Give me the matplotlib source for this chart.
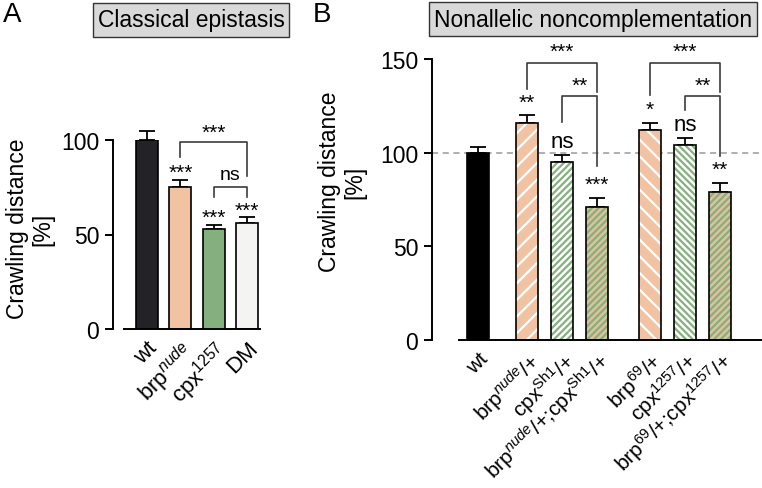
import matplotlib
matplotlib.use("Agg")
import matplotlib.pyplot as plt

plt.rcParams['font.family'] = ['Liberation Sans', 'DejaVu Sans']
plt.rcParams['mathtext.fontset'] = 'custom'
plt.rcParams['mathtext.rm'] = 'Liberation Sans'
plt.rcParams['mathtext.it'] = 'Liberation Sans:italic'
plt.rcParams['hatch.linewidth'] = 1.6

# ---- data ----
# panel A: classical epistasis
a_labels = ['wt', r'brp$^{\mathit{nude}}$', r'cpx$^{\mathit{1257}}$', 'DM']
a_means = [100, 75, 53, 56]
a_errs = [5, 4, 2, 3]
a_stars = ['', '***', '***', '***']

# panel B: nonallelic noncomplementation
b_labels = ['wt', r'brp$^{\mathit{nude}}$/+', r'cpx$^{\mathrm{Sh1}}$/+',
            r'brp$^{\mathit{nude}}$/+;cpx$^{\mathrm{Sh1}}$/+',
            r'brp$^{\mathrm{69}}$/+', r'cpx$^{\mathit{1257}}$/+', r'brp$^{\mathrm{69}}$/+;cpx$^{\mathit{1257}}$/+']
b_means = [100, 116, 95, 71, 112, 104, 79]
b_errs = [3, 4, 4, 5, 4, 4, 5]
b_stars = ['', '**', 'ns', '***', '*', 'ns', '**']

W, H = 762, 489
fig = plt.figure(figsize=(W / 100, H / 100), dpi=100)

def px_axes(left, top, right, bottom):
    return fig.add_axes([left / W, 1 - bottom / H, (right - left) / W, (bottom - top) / H])

def style(ax, xb0, xb1):
    for s in ['top', 'right']:
        ax.spines[s].set_visible(False)
    ax.spines['left'].set_linewidth(1.4)
    ax.spines['bottom'].set_linewidth(1.4)
    ax.spines['bottom'].set_bounds(xb0, xb1)
    ax.tick_params(axis='y', length=6, width=1.4, labelsize=16.5, pad=4)
    ax.tick_params(axis='x', length=0, pad=6)

def bracket(ax, x0, x1, ytop, y0, y1, label, ty):
    ax.plot([x0, x0, x1, x1], [y0, ytop, ytop, y1], color='#3c3c3c', lw=1.2, clip_on=False)
    ax.text((x0 + x1) / 2, ty, label, ha='center', va='center', fontsize=14 if label == 'ns' else 15,
            clip_on=False)

def star(ax, x, y, s):
    ax.text(x, y, s, ha='center', va='center', fontsize=16 if s == 'ns' else 15, clip_on=False)

# ---- panel A ----
axA = px_axes(113, 141, 262, 330)
a_pos = [0, 1, 2, 3]
a_cols = ['#232327', '#f1c3a3', '#84b07e', '#f4f4f2']
axA.bar(a_pos, a_means, width=0.66, color=a_cols, edgecolor='black', linewidth=1.2, zorder=2)
axA.errorbar(a_pos, a_means, yerr=[[0] * 4, a_errs], fmt='none', ecolor='black',
             elinewidth=1.3, capsize=5.5, capthick=1.3, clip_on=False, zorder=1)
axA.set_xlim(-1.02, 3.45)
axA.set_ylim(0, 100)
axA.set_yticks([0, 50, 100])
style(axA, -0.69, 3.4)
axA.set_xticks(a_pos)
axA.set_xticklabels(a_labels, rotation=45, ha='right', va='top', rotation_mode='anchor',
                    fontsize=16)
for p, m, e, s in zip(a_pos, a_means, a_errs, a_stars):
    if s:
        star(axA, p, m + e + 4, s)
bracket(axA, 1, 3, 99, 91, 81, '***', 104)
bracket(axA, 2, 3, 75, 70, 70, 'ns', 82)

# ---- panel B ----
axB = px_axes(432, 60, 762, 341)
b_pos = [0, 1.4, 2.4, 3.4, 4.9, 5.9, 6.9]
peach, green, tan = '#f1c3a3', '#84b07e', '#dfc19c'
b_face = ['black', peach, 'white', tan, peach, 'white', tan]
b_hcol = ['black', 'white', green, green, 'white', green, green]
b_hatch = [None, '//', '/////', '/////', '\\\\', '\\\\\\\\\\', '/////']
for p, m, fc, hc, h in zip(b_pos, b_means, b_face, b_hcol, b_hatch):
    axB.bar(p, m, width=0.63, color=fc, edgecolor=hc, hatch=h, linewidth=0, zorder=2)
axB.bar(b_pos, b_means, width=0.63, fill=False, edgecolor='black', linewidth=1.2, zorder=3)
axB.errorbar(b_pos, b_means, yerr=[[0] * 7, b_errs], fmt='none', ecolor='black',
             elinewidth=1.3, capsize=5.5, capthick=1.3, clip_on=False, zorder=1)
axB.axhline(100, color='#9a9a9a', lw=1.1, ls=(0, (4, 3)), zorder=0, clip_on=False)
axB.set_xlim(-1.31, 8.1)
axB.set_ylim(0, 150)
axB.set_yticks([0, 50, 100, 150])
style(axB, -0.54, 8.1)
axB.set_xticks(b_pos)
axB.set_xticklabels(b_labels, rotation=45, ha='right', va='top', rotation_mode='anchor',
                    fontsize=15)
for p, m, e, s in zip(b_pos, b_means, b_errs, b_stars):
    if s:
        star(axB, p, m + e + 7, s)
bracket(axB, 1.4, 3.4, 148, 134, 132.5, '***', 154)
bracket(axB, 2.4, 3.4, 130, 116.5, 93, '**', 136)
bracket(axB, 4.9, 6.9, 148, 131, 132.5, '***', 154)
bracket(axB, 5.9, 6.9, 130, 123, 98, '**', 136)

# ---- labels and headers ----
fig.text(30 / W, 1 - 229 / H, 'Crawling distance\n[%]', rotation=90, ha='center', va='center',
         fontsize=16.5, linespacing=1.15)
fig.text(342 / W, 1 - 182 / H, 'Crawling distance\n[%]', rotation=90, ha='center', va='center',
         fontsize=16.5, linespacing=1.15)
fig.text(12 / W, 1 - 15 / H, 'A', ha='center', va='center', fontsize=20)
fig.text(322 / W, 1 - 15 / H, 'B', ha='center', va='center', fontsize=20)
box = dict(boxstyle='square,pad=0.22', facecolor='#d9d9d9', edgecolor='#333333', linewidth=1.0)
fig.text(191 / W, 1 - 21 / H, 'Classical epistasis', ha='center', va='center', fontsize=16.5, bbox=box)
fig.text(593 / W, 1 - 20 / H, 'Nonallelic noncomplementation', ha='center', va='center',
         fontsize=16.5, bbox=box)

fig.savefig('out.png', dpi=100)
